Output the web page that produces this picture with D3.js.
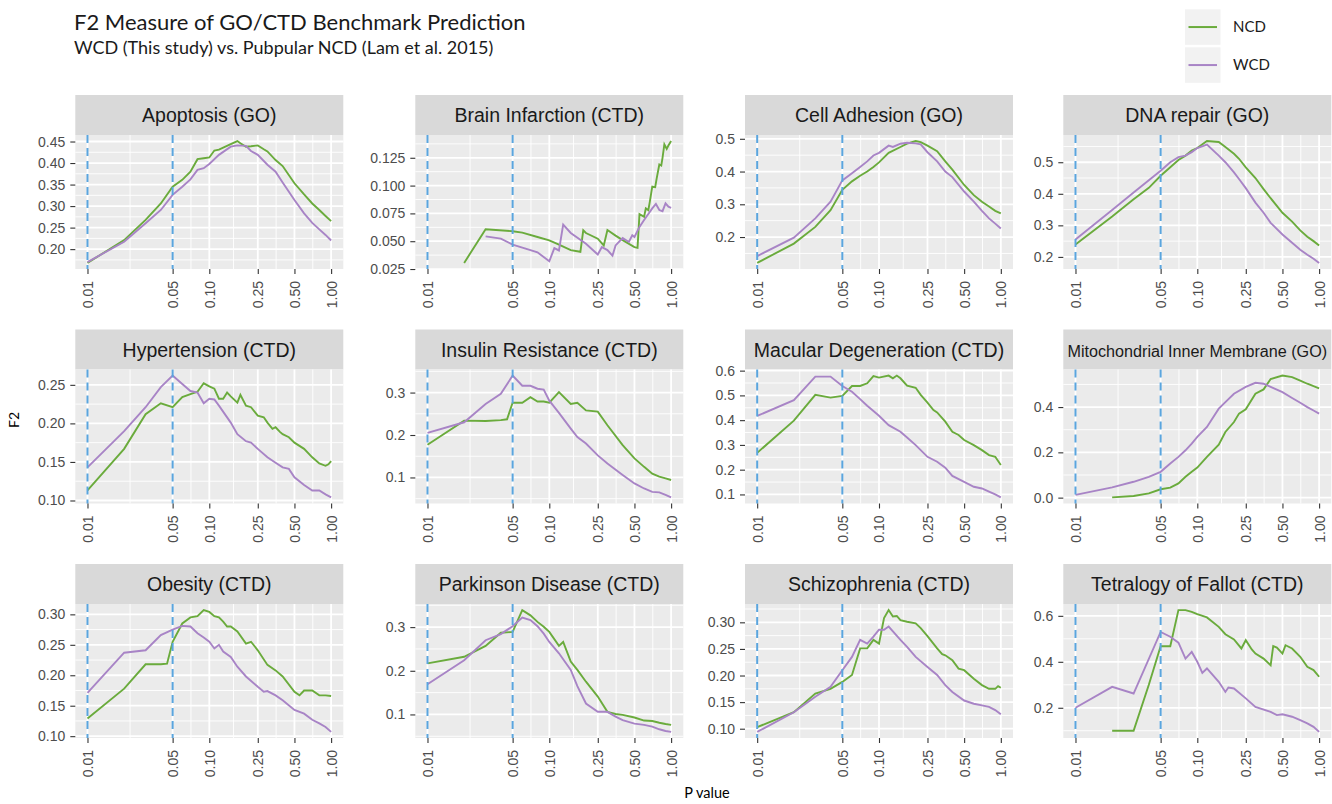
<!DOCTYPE html>
<html>
<head>
<meta charset="utf-8">
<script src="https://cdn.jsdelivr.net/npm/d3@7"></script>
<style>
  body { margin: 0; background: #fff; }
  text { font-family: 'Liberation Sans', Arial, sans-serif; }
  .heading { font-family: Lato, 'Open Sans', sans-serif; }
</style>
</head>
<body>
<div id="chart"></div>
<script>
'use strict'

// facet titles, in reading order (4 per row)
const titles = [
  'Apoptosis (GO)', 'Brain Infarction (CTD)', 'Cell Adhesion (GO)', 'DNA repair (GO)',
  'Hypertension (CTD)', 'Insulin Resistance (CTD)', 'Macular Degeneration (CTD)', 'Mitochondrial Inner Membrane (GO)',
  'Obesity (CTD)', 'Parkinson Disease (CTD)', 'Schizophrenia (CTD)', 'Tetralogy of Fallot (CTD)'
]

const seriesNames = ['NCD', 'WCD']

// shared x axis (log scale) and the two dashed cut-offs
const xTickLabels = ['0.01', '0.05', '0.10', '0.25', '0.50', '1.00']
const cutoffs = [0.01, 0.05]

// y tick labels per facet (free y scales)
const yTickLabels = [
  ['0.20', '0.25', '0.30', '0.35', '0.40', '0.45'],
  ['0.025', '0.050', '0.075', '0.100', '0.125'],
  ['0.2', '0.3', '0.4', '0.5'],
  ['0.2', '0.3', '0.4', '0.5'],
  ['0.10', '0.15', '0.20', '0.25'],
  ['0.1', '0.2', '0.3'],
  ['0.1', '0.2', '0.3', '0.4', '0.5', '0.6'],
  ['0.0', '0.2', '0.4'],
  ['0.10', '0.15', '0.20', '0.25', '0.30'],
  ['0.1', '0.2', '0.3'],
  ['0.10', '0.15', '0.20', '0.25', '0.30'],
  ['0.2', '0.4', '0.6']
]

// [p value, F2]
const apoptosisNCD = [[0.01, .168], [0.02, .221], [0.03, .268], [0.04, .306], [0.05, .345], [0.06, .361], [0.07, .380], [0.08, .409], [0.09, .411], [0.10, .413], [0.11, .429], [0.12, .431], [0.15, .444], [0.17, .451], [0.18, .446], [0.20, .438], [0.22, .439], [0.25, .441], [0.28, .432], [0.30, .427], [0.35, .407], [0.40, .393], [0.50, .353], [0.60, .327], [0.70, .306], [0.80, .291], [0.90, .277], [1.00, .265]]
const apoptosisWCD = [[0.01, .170], [0.02, .217], [0.03, .260], [0.04, .291], [0.05, .326], [0.06, .345], [0.07, .362], [0.08, .384], [0.09, .388], [0.10, .398], [0.12, .419], [0.15, .438], [0.17, .441], [0.20, .440], [0.22, .428], [0.25, .419], [0.30, .396], [0.35, .380], [0.40, .355], [0.50, .314], [0.60, .283], [0.70, .261], [0.80, .246], [0.90, .233], [1.00, .220]]

const brainNCD = [[0.02, .0305], [0.03, .0608], [0.05, .059], [0.06, .0577], [0.08, .0538], [0.10, .0508], [0.12, .047], [0.15, .042], [0.18, .0405], [0.19, .0598], [0.20, .0574], [0.25, .0523], [0.28, .0462], [0.30, .0600], [0.35, .055], [0.40, .051], [0.50, .0447], [0.53, .0440], [0.55, .0744], [0.60, .0720], [0.62, .0795], [0.65, .0780], [0.67, .0860], [0.70, .0990], [0.74, .0985], [0.76, .1060], [0.80, .1190], [0.83, .1180], [0.85, .1250], [0.88, .1370], [0.92, .1330], [0.95, .1360], [1.00, .1400]]
const brainWCD = [[0.03, .0544], [0.04, .0523], [0.05, .047], [0.07, .042], [0.08, .040], [0.10, .032], [0.11, .0438], [0.12, .0417], [0.13, .065], [0.15, .0574], [0.20, .0477], [0.25, .038], [0.27, .0447], [0.30, .042], [0.33, .037], [0.35, .0462], [0.40, .0529], [0.45, .0493], [0.48, .0553], [0.50, .0538], [0.55, .0629], [0.60, .069], [0.65, .0744], [0.70, .0795], [0.75, .0835], [0.80, .078], [0.85, .077], [0.90, .084], [0.95, .081], [1.00, .080]]

const cellNCD = [[0.01, .121], [0.02, .180], [0.03, .231], [0.04, .282], [0.05, .344], [0.06, .370], [0.07, .387], [0.08, .400], [0.09, .414], [0.10, .428], [0.12, .457], [0.15, .475], [0.17, .485], [0.20, .493], [0.22, .490], [0.25, .479], [0.30, .462], [0.35, .431], [0.40, .406], [0.50, .359], [0.60, .328], [0.70, .308], [0.80, .293], [0.90, .280], [1.00, .272]]
const cellWCD = [[0.01, .142], [0.02, .198], [0.03, .257], [0.04, .308], [0.05, .373], [0.06, .395], [0.07, .414], [0.08, .431], [0.09, .449], [0.10, .457], [0.12, .479], [0.13, .475], [0.15, .485], [0.17, .488], [0.20, .486], [0.22, .483], [0.25, .459], [0.30, .431], [0.35, .400], [0.40, .383], [0.50, .339], [0.60, .308], [0.70, .280], [0.80, .257], [0.90, .241], [1.00, .226]]

const dnaNCD = [[0.01, .239], [0.02, .328], [0.03, .383], [0.04, .419], [0.05, .457], [0.06, .484], [0.07, .507], [0.08, .521], [0.09, .537], [0.10, .545], [0.12, .567], [0.15, .564], [0.17, .548], [0.20, .527], [0.22, .511], [0.25, .484], [0.30, .450], [0.35, .415], [0.40, .386], [0.50, .340], [0.60, .312], [0.70, .284], [0.80, .264], [0.90, .250], [1.00, .236]]
const dnaWCD = [[0.01, .255], [0.02, .349], [0.03, .404], [0.04, .443], [0.05, .473], [0.06, .500], [0.07, .516], [0.08, .521], [0.09, .532], [0.10, .545], [0.12, .556], [0.15, .521], [0.17, .500], [0.20, .468], [0.22, .447], [0.25, .418], [0.30, .372], [0.35, .340], [0.40, .308], [0.50, .271], [0.60, .245], [0.70, .223], [0.80, .207], [0.90, .194], [1.00, .181]]

const hypertensionNCD = [[0.01, .113], [0.02, .167], [0.03, .212], [0.04, .226], [0.05, .221], [0.06, .234], [0.07, .238], [0.08, .241], [0.09, .252], [0.10, .248], [0.11, .245], [0.12, .232], [0.13, .232], [0.14, .240], [0.15, .235], [0.17, .227], [0.18, .237], [0.20, .223], [0.22, .221], [0.25, .210], [0.28, .208], [0.30, .201], [0.33, .193], [0.35, .195], [0.38, .189], [0.40, .186], [0.45, .182], [0.50, .175], [0.60, .167], [0.70, .156], [0.80, .148], [0.90, .145], [0.95, .147], [1.00, .151]]
const hypertensionWCD = [[0.01, .143], [0.02, .190], [0.03, .221], [0.04, .247], [0.05, .262], [0.06, .251], [0.07, .242], [0.08, .240], [0.09, .226], [0.10, .232], [0.11, .231], [0.12, .223], [0.15, .201], [0.17, .186], [0.20, .177], [0.22, .175], [0.25, .167], [0.30, .156], [0.35, .149], [0.40, .143], [0.45, .141], [0.50, .130], [0.60, .120], [0.70, .113], [0.80, .113], [0.90, .108], [1.00, .104]]

const insulinNCD = [[0.01, .177], [0.02, .234], [0.03, .233], [0.04, .235], [0.045, .237], [0.05, .276], [0.06, .276], [0.07, .289], [0.08, .279], [0.09, .279], [0.10, .276], [0.12, .301], [0.15, .273], [0.17, .276], [0.20, .258], [0.25, .255], [0.30, .223], [0.40, .176], [0.50, .145], [0.60, .125], [0.70, .109], [0.80, .102], [0.90, .098], [1.00, .094]]
const insulinWCD = [[0.01, .205], [0.02, .230], [0.03, .273], [0.04, .297], [0.05, .340], [0.06, .316], [0.07, .316], [0.08, .309], [0.09, .307], [0.10, .281], [0.12, .252], [0.15, .215], [0.17, .195], [0.20, .180], [0.25, .152], [0.30, .133], [0.40, .106], [0.50, .086], [0.60, .074], [0.70, .066], [0.80, .065], [0.90, .059], [1.00, .053]]

const macularNCD = [[0.01, .268], [0.02, .398], [0.03, .502], [0.04, .491], [0.05, .498], [0.06, .538], [0.07, .538], [0.08, .549], [0.09, .578], [0.10, .572], [0.12, .580], [0.13, .569], [0.14, .580], [0.15, .569], [0.17, .539], [0.20, .531], [0.22, .502], [0.25, .471], [0.28, .441], [0.30, .431], [0.35, .394], [0.40, .353], [0.45, .340], [0.50, .320], [0.60, .299], [0.70, .279], [0.80, .259], [0.90, .252], [1.00, .219]]
const macularWCD = [[0.01, .417], [0.02, .481], [0.03, .576], [0.04, .576], [0.05, .538], [0.06, .515], [0.07, .485], [0.08, .458], [0.09, .437], [0.10, .418], [0.12, .380], [0.15, .353], [0.17, .330], [0.20, .299], [0.25, .252], [0.30, .232], [0.35, .208], [0.40, .175], [0.50, .151], [0.60, .131], [0.70, .124], [0.80, .111], [0.90, .100], [1.00, .088]]

const mitoNCD = [[0.02, .001], [0.03, .007], [0.04, .019], [0.05, .037], [0.06, .044], [0.07, .063], [0.08, .092], [0.09, .114], [0.10, .133], [0.12, .180], [0.15, .234], [0.17, .290], [0.20, .334], [0.22, .371], [0.25, .390], [0.30, .459], [0.35, .478], [0.40, .524], [0.50, .539], [0.60, .532], [0.70, .517], [0.80, .503], [0.90, .492], [1.00, .483]]
const mitoWCD = [[0.01, .012], [0.02, .045], [0.03, .070], [0.04, .092], [0.05, .114], [0.06, .151], [0.07, .180], [0.08, .209], [0.09, .239], [0.10, .268], [0.12, .312], [0.15, .393], [0.17, .422], [0.20, .459], [0.25, .489], [0.30, .507], [0.35, .503], [0.40, .489], [0.50, .466], [0.60, .440], [0.70, .419], [0.80, .400], [0.90, .385], [1.00, .371]]

const obesityNCD = [[0.01, .129], [0.02, .178], [0.03, .218], [0.04, .218], [0.045, .219], [0.05, .255], [0.06, .285], [0.07, .295], [0.08, .297], [0.09, .307], [0.10, .304], [0.11, .297], [0.12, .295], [0.13, .288], [0.14, .280], [0.15, .280], [0.17, .272], [0.20, .252], [0.22, .255], [0.25, .241], [0.30, .217], [0.35, .208], [0.40, .198], [0.50, .173], [0.55, .167], [0.60, .175], [0.70, .175], [0.80, .167], [0.90, .167], [1.00, .166]]
const obesityWCD = [[0.01, .171], [0.02, .237], [0.03, .241], [0.04, .266], [0.05, .275], [0.06, .281], [0.07, .280], [0.08, .269], [0.09, .262], [0.10, .255], [0.11, .244], [0.12, .250], [0.13, .239], [0.15, .230], [0.17, .214], [0.20, .198], [0.25, .181], [0.28, .173], [0.30, .174], [0.35, .167], [0.40, .159], [0.50, .143], [0.60, .137], [0.70, .127], [0.80, .121], [0.90, .115], [1.00, .107]]

const parkinsonNCD = [[0.01, .217], [0.02, .232], [0.03, .257], [0.04, .287], [0.05, .289], [0.06, .339], [0.07, .327], [0.08, .312], [0.09, .301], [0.10, .289], [0.12, .257], [0.13, .266], [0.15, .221], [0.17, .202], [0.20, .175], [0.25, .141], [0.30, .106], [0.35, .101], [0.40, .099], [0.50, .093], [0.60, .086], [0.70, .085], [0.80, .081], [0.90, .078], [1.00, .076]]
const parkinsonWCD = [[0.01, .169], [0.02, .224], [0.03, .270], [0.04, .284], [0.05, .302], [0.06, .322], [0.07, .316], [0.08, .302], [0.09, .285], [0.10, .266], [0.12, .240], [0.15, .202], [0.17, .165], [0.20, .125], [0.25, .106], [0.30, .106], [0.35, .095], [0.40, .087], [0.50, .079], [0.60, .076], [0.70, .072], [0.80, .066], [0.90, .062], [1.00, .060]]

const schizoNCD = [[0.01, .103], [0.02, .131], [0.03, .166], [0.04, .175], [0.05, .188], [0.06, .201], [0.07, .251], [0.08, .251], [0.09, .267], [0.10, .260], [0.11, .308], [0.12, .323], [0.13, .311], [0.14, .312], [0.15, .304], [0.17, .301], [0.20, .298], [0.22, .289], [0.25, .274], [0.30, .251], [0.33, .240], [0.35, .238], [0.40, .229], [0.45, .213], [0.50, .210], [0.60, .194], [0.70, .182], [0.80, .175], [0.90, .175], [0.95, .180], [1.00, .177]]
const schizoWCD = [[0.01, .094], [0.02, .131], [0.03, .160], [0.04, .179], [0.05, .210], [0.06, .235], [0.07, .267], [0.08, .260], [0.09, .273], [0.10, .286], [0.11, .286], [0.12, .292], [0.15, .267], [0.17, .254], [0.20, .235], [0.25, .216], [0.30, .201], [0.35, .182], [0.40, .169], [0.50, .153], [0.60, .147], [0.70, .144], [0.80, .141], [0.90, .135], [1.00, .127]]

const tetralogyNCD = [[0.02, .100], [0.03, .100], [0.04, .300], [0.05, .468], [0.06, .468], [0.07, .625], [0.08, .625], [0.09, .617], [0.10, .607], [0.12, .593], [0.15, .552], [0.17, .520], [0.20, .497], [0.23, .458], [0.25, .494], [0.28, .454], [0.30, .436], [0.35, .414], [0.40, .385], [0.42, .468], [0.45, .462], [0.50, .436], [0.53, .472], [0.60, .458], [0.70, .422], [0.80, .378], [0.90, .364], [1.00, .335]]
const tetralogyWCD = [[0.01, .200], [0.02, .291], [0.03, .262], [0.05, .530], [0.06, .509], [0.07, .483], [0.08, .414], [0.09, .443], [0.10, .400], [0.11, .352], [0.12, .371], [0.15, .313], [0.17, .269], [0.18, .288], [0.20, .284], [0.25, .241], [0.30, .204], [0.40, .182], [0.45, .168], [0.50, .172], [0.60, .161], [0.70, .146], [0.80, .132], [0.90, .117], [1.00, .095]]

const ncdSeries = [apoptosisNCD, brainNCD, cellNCD, dnaNCD, hypertensionNCD, insulinNCD, macularNCD, mitoNCD, obesityNCD, parkinsonNCD, schizoNCD, tetralogyNCD]
const wcdSeries = [apoptosisWCD, brainWCD, cellWCD, dnaWCD, hypertensionWCD, insulinWCD, macularWCD, mitoWCD, obesityWCD, parkinsonWCD, schizoWCD, tetralogyWCD]

// layout of the facet grid
const width = 1332
const height = 804
const colLeft = [75.3, 415.3, 745, 1063.3]
const rowTop = [95, 329.5, 564]
const panelW = 268
const stripH = 40
const panelH = 134
const color = { NCD: '#6aab3c', WCD: '#a884c6' }

const svg = d3.select('#chart')
  .append('svg')
    .attr('width', width)
    .attr('height', height)

// minor breaks sit half way between the (extended) major breaks, like ggplot
const minorBreaks = (breaks, lo, hi) => {
  const step0 = breaks[1] - breaks[0]
  const stepN = breaks[breaks.length - 1] - breaks[breaks.length - 2]
  const ext = [breaks[0] - step0, ...breaks, breaks[breaks.length - 1] + stepN]
  return d3.pairs(ext).map(([a, b]) => (a + b) / 2).filter(v => v > lo && v < hi)
}

const xTicks = xTickLabels.map(Number)
const logLo = Math.log10(xTicks[0])
const logHi = Math.log10(xTicks[xTicks.length - 1])
const logPad = (logHi - logLo) * 0.05

titles.forEach((title, i) => {
  const left = colLeft[i % 4]
  const top = rowTop[Math.floor(i / 4)] + stripH
  const bottom = top + panelH
  const ncd = ncdSeries[i]
  const wcd = wcdSeries[i]

  const x = d3.scaleLog()
    .domain([Math.pow(10, logLo - logPad), Math.pow(10, logHi + logPad)])
    .range([left, left + panelW])

  const ext = d3.extent(ncd.concat(wcd), d => d[1])
  const pad = (ext[1] - ext[0]) * 0.05
  const y = d3.scaleLinear()
    .domain([ext[0] - pad, ext[1] + pad])
    .range([bottom, top])

  const yTicks = yTickLabels[i].map(Number)
  const g = svg.append('g')

  // strip
  g.append('rect')
    .attr('x', left).attr('y', top - stripH)
    .attr('width', panelW).attr('height', stripH)
    .attr('fill', '#d9d9d9')
  const label = g.append('text')
    .attr('x', left + panelW / 2)
    .attr('y', top - stripH / 2 + 7)
    .attr('text-anchor', 'middle')
    .attr('font-size', 19.5)
    .attr('fill', '#1a1a1a')
    .text(title)
  // shrink labels that are wider than the strip
  const textW = label.node().getComputedTextLength()
  if (textW > panelW - 8) {
    label.attr('font-size', 19.5 * (panelW - 8) / textW)
  }

  // panel background and grid
  g.append('rect')
    .attr('x', left).attr('y', top)
    .attr('width', panelW).attr('height', panelH)
    .attr('fill', '#ebebeb')

  const logTicks = xTicks.map(Math.log10)
  const xMinor = minorBreaks(logTicks, logLo - logPad, logHi + logPad).map(v => Math.pow(10, v))
  const yMinor = minorBreaks(yTicks, y.domain()[0], y.domain()[1])

  g.selectAll(null).data(xMinor).join('line')
    .attr('x1', d => x(d)).attr('x2', d => x(d))
    .attr('y1', top).attr('y2', bottom)
    .attr('stroke', '#fff').attr('stroke-width', 0.9)
  g.selectAll(null).data(yMinor).join('line')
    .attr('x1', left).attr('x2', left + panelW)
    .attr('y1', d => y(d)).attr('y2', d => y(d))
    .attr('stroke', '#fff').attr('stroke-width', 0.9)
  g.selectAll(null).data(xTicks).join('line')
    .attr('x1', d => x(d)).attr('x2', d => x(d))
    .attr('y1', top).attr('y2', bottom)
    .attr('stroke', '#fff').attr('stroke-width', 1.8)
  g.selectAll(null).data(yTicks).join('line')
    .attr('x1', left).attr('x2', left + panelW)
    .attr('y1', d => y(d)).attr('y2', d => y(d))
    .attr('stroke', '#fff').attr('stroke-width', 1.8)

  // the two series
  const line = d3.line()
    .x(d => x(d[0]))
    .y(d => y(d[1]))
  g.append('path')
    .datum(ncd)
    .attr('fill', 'none')
    .attr('stroke', color.NCD)
    .attr('stroke-width', 1.9)
    .attr('d', line)
  g.append('path')
    .datum(wcd)
    .attr('fill', 'none')
    .attr('stroke', color.WCD)
    .attr('stroke-width', 1.9)
    .attr('d', line)

  // dashed p value cut-offs
  g.selectAll(null).data(cutoffs).join('line')
    .attr('x1', d => x(d)).attr('x2', d => x(d))
    .attr('y1', top).attr('y2', bottom)
    .attr('stroke', '#5aa5de')
    .attr('stroke-width', 2)
    .attr('stroke-dasharray', '8,5')

  // axes
  const yAxis = g.append('g')
    .attr('transform', `translate(${left}, 0)`)
    .call(d3.axisLeft(y)
      .tickValues(yTicks)
      .tickFormat((d, j) => yTickLabels[i][j])
      .tickSize(5)
      .tickPadding(5))
  yAxis.select('.domain').remove()
  yAxis.selectAll('line').attr('stroke', '#333').attr('stroke-width', 1.1)
  yAxis.selectAll('text')
    .attr('font-size', 14)
    .attr('font-family', "'Liberation Sans', Arial, sans-serif")
    .attr('fill', '#4d4d4d')

  const xAxis = g.append('g')
    .attr('transform', `translate(0, ${bottom})`)
    .call(d3.axisBottom(x)
      .tickValues(xTicks)
      .tickFormat((d, j) => xTickLabels[j])
      .tickSize(5))
  xAxis.select('.domain').remove()
  xAxis.selectAll('line').attr('stroke', '#333').attr('stroke-width', 1.1)
  xAxis.selectAll('text')
    .attr('transform', 'rotate(-90)')
    .attr('text-anchor', 'end')
    .attr('x', -12)
    .attr('y', 0)
    .attr('dy', '0.35em')
    .attr('font-size', 14)
    .attr('font-family', "'Liberation Sans', Arial, sans-serif")
    .attr('fill', '#4d4d4d')
})

// titles
svg.append('text')
  .attr('class', 'heading')
  .attr('x', 74).attr('y', 29.5)
  .attr('font-size', 22)
  .attr('fill', '#1a1a1a')
  .text('F2 Measure of GO/CTD Benchmark Prediction')
svg.append('text')
  .attr('class', 'heading')
  .attr('x', 74).attr('y', 54)
  .attr('font-size', 18)
  .attr('fill', '#1a1a1a')
  .text('WCD (This study) vs. Pubpular NCD (Lam et al. 2015)')

// axis titles
svg.append('text')
  .attr('class', 'heading')
  .attr('transform', 'translate(19, 420) rotate(-90)')
  .attr('text-anchor', 'middle')
  .attr('font-size', 14)
  .text('F2')
svg.append('text')
  .attr('class', 'heading')
  .attr('x', 707).attr('y', 798)
  .attr('text-anchor', 'middle')
  .attr('font-size', 14.5)
  .text('P value')

// legend
const legend = svg.append('g')
  .attr('transform', 'translate(1185, 9.3)')
seriesNames.forEach((name, k) => {
  const item = legend.append('g').attr('transform', `translate(0, ${k * 38})`)
  item.append('rect')
    .attr('width', 35.5).attr('height', 35.5)
    .attr('fill', '#f2f2f2')
  item.append('line')
    .attr('x1', 3.5).attr('x2', 32)
    .attr('y1', 17.75).attr('y2', 17.75)
    .attr('stroke', color[name])
    .attr('stroke-width', 2)
  item.append('text')
    .attr('class', 'heading')
    .attr('x', 48).attr('y', 23)
    .attr('font-size', 15)
    .attr('fill', '#1a1a1a')
    .text(name)
})
</script>
</body>
</html>
